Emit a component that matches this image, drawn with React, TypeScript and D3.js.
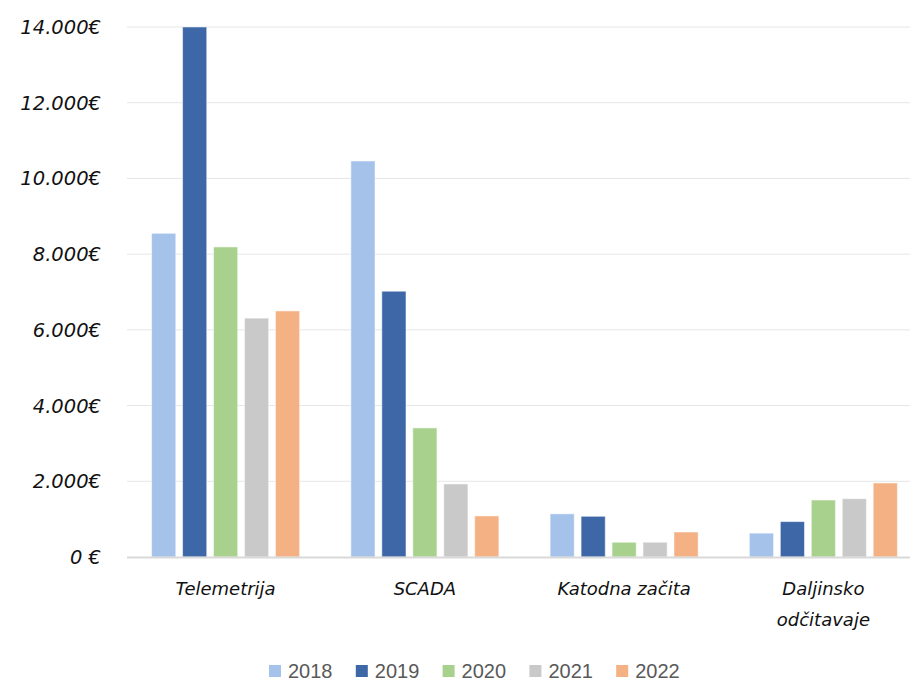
import React from "react";
import * as d3 from "d3";

const categories = [["Telemetrija"], ["SCADA"], ["Katodna začita"], ["Daljinsko", "odčitavaje"]];
const years = ["2018", "2019", "2020", "2021", "2022"];
const colors = ["#A4C2EA", "#3D67A6", "#A9D18E", "#C9C9C9", "#F4B183"];
const values2018 = [8550, 10460, 1140, 630];
const values2019 = [14000, 7020, 1075, 935];
const values2020 = [8190, 3410, 390, 1505];
const values2021 = [6310, 1930, 390, 1540];
const values2022 = [6500, 1085, 660, 1955];
const series = [values2018, values2019, values2020, values2021, values2022];
const yTicks = [0, 2000, 4000, 6000, 8000, 10000, 12000, 14000];

const W = 911, H = 683;
const font = "'DejaVu Sans', sans-serif";
const GROUP = 148;

export default function App() {
  const x = d3.scaleBand<number>().domain(d3.range(categories.length)).range([126, 923]);
  const inner = d3.scaleBand<number>().domain(d3.range(years.length)).range([0, GROUP]).paddingInner(0.22);
  const y = d3.scaleLinear().domain([0, 14000]).range([557, 27]);
  const fmt = (v: number) => (v === 0 ? "0 €" : d3.format(",")(v).replace(/,/g, ".") + "€");
  const groupOffset = (x.bandwidth() - GROUP) / 2;
  return (
    <svg width={W} height={H} style={{ position: "absolute", left: 0, top: 0, background: "#fff" }}>
      {yTicks.map((t) => (
        <g key={t}>
          {t !== 0 && <line x1={127} x2={910} y1={y(t)} y2={y(t)} stroke="#E6E6E6" strokeWidth={1} />}
          <text x={101} y={y(t)} dy="0.36em" textAnchor="end" fontFamily={font} fontStyle="italic" fontSize={19.5} fill="#111">
            {fmt(t)}
          </text>
        </g>
      ))}
      {series.map((vals, si) =>
        vals.map((v, ci) => (
          <rect
            key={si + "-" + ci}
            x={(x(ci) as number) + groupOffset + (inner(si) as number)}
            y={y(v)}
            width={inner.bandwidth()}
            height={557 - y(v)}
            fill={colors[si]}
            stroke="#ffffff"
            strokeOpacity={0.5}
            strokeWidth={1}
          />
        ))
      )}
      <line x1={127} x2={910} y1={557.5} y2={557.5} stroke="#D9D9D9" strokeWidth={2} />
      {categories.map((lines, ci) => (
        <text key={ci} x={(x(ci) as number) + x.bandwidth() / 2} y={595} textAnchor="middle" fontFamily={font} fontStyle="italic" fontSize={18} fill="#111">
          {lines.map((l, li) => (
            <tspan key={li} x={(x(ci) as number) + x.bandwidth() / 2} dy={li === 0 ? 0 : 31}>{l}</tspan>
          ))}
        </text>
      ))}
      {years.map((yr, i) => (
        <g key={yr} transform={`translate(${269 + i * 86.8},${671})`}>
          <rect x={0} y={-6} width={12} height={12} fill={colors[i]} />
          <text x={19} y={0} dy="0.35em" fontFamily="'Liberation Sans', 'Open Sans', sans-serif" fontSize={20} fill="#595959">{yr}</text>
        </g>
      ))}
    </svg>
  );
}
